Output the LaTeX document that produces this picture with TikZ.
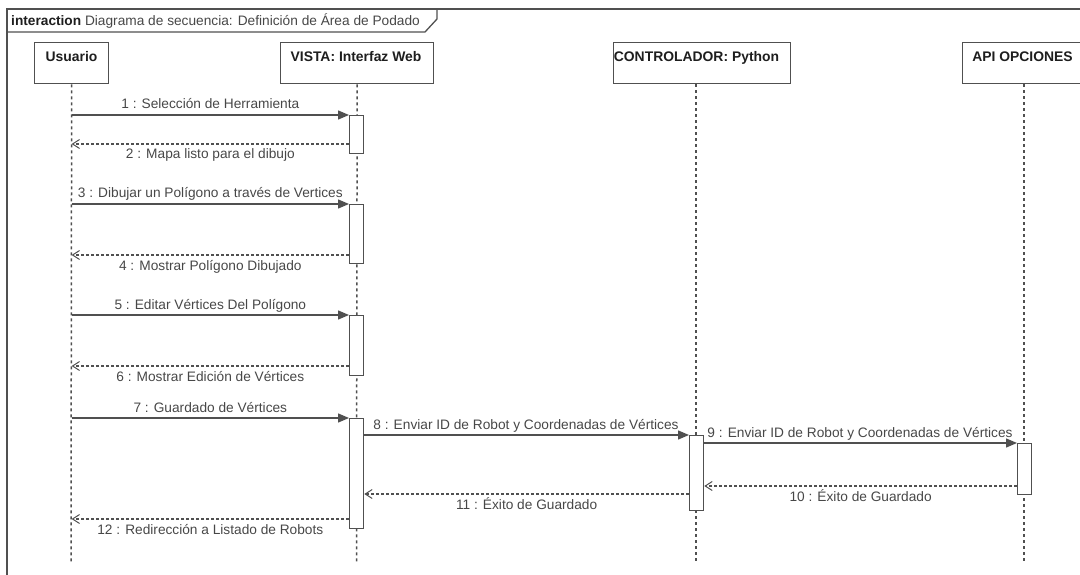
\documentclass[tikz,border=0pt]{standalone}
\usepackage{fontspec}
\setmainfont{Liberation Sans}
\usetikzlibrary{arrows.meta}
\definecolor{linegray}{HTML}{505050}
\definecolor{labelgray}{HTML}{474747}
\definecolor{headink}{HTML}{1E1E1E}

\begin{document}
\begin{tikzpicture}[x=1pt,y=-1pt,
  every node/.style={font=\fontsize{13.7}{16}\selectfont},
  frameline/.style={draw=linegray,line width=1.3pt},
  headbox/.style={draw=linegray,line width=1.3pt,fill=white,minimum height=41pt,
    inner sep=0pt,anchor=north west},
  headtext/.style={text=headink,font=\fontsize{13.9}{16}\selectfont\bfseries,anchor=base,inner sep=0pt},
  lifeline/.style={draw=linegray,line width=1.5pt,dash pattern=on 3pt off 3pt},
  actbox/.style={draw=linegray,line width=1.3pt,fill=white,minimum width=14pt,
    inner sep=0pt,anchor=north west},
  call/.style={draw=linegray,line width=1.3pt,-{Triangle[length=11pt,width=9pt]}},
  reply/.style={draw=linegray,line width=1.2pt,dash pattern=on 3pt off 2pt,
    -{Straight Barb[length=7pt,width=9pt,line width=1pt]}},
  above label/.style={text=labelgray,anchor=base,inner sep=0pt,yshift=6pt},
  below label/.style={text=labelgray,anchor=base,inner sep=0pt,yshift=-15pt}
]
\useasboundingbox (0,0) rectangle (1080,575);
\clip (0,0) rectangle (1080,575);

% interaction frame and its name tab
\draw[frameline] (7,9) rectangle (1100,600);
\draw[frameline] (7,9) -- (437,9) -- (437,19) -- (425,32) -- (7,32);
\node[anchor=base west,inner sep=0pt,text=labelgray] (ftitle) at (11,26)
  {\textcolor{headink}{\bfseries interaction} Diagrama de secuencia: Definición de Área de Podado};

% lifeline heads
\node[headbox,minimum width=74pt]  (usr) at (34,42) {};
\node[headbox,minimum width=153pt] (vis) at (280,42) {};
\node[headbox,minimum width=177pt] (ctl) at (613,42) {};
\node[headbox,minimum width=124pt] (api) at (962,42) {};
\node[headtext] (usrT) at (71.5,62) {Usuario};
\node[headtext] (visT) at (356,62) {VISTA: Interfaz Web};
\node[headtext] (ctlT) at (696.5,62) {CONTROLADOR: Python};
\node[headtext] (apiT) at (1022.5,62) {API OPCIONES};

% lifelines
\coordinate (usrEnd) at (71,562);
\coordinate (visEnd) at (356.5,562);
\coordinate (ctlEnd) at (696,562);
\coordinate (apiEnd) at (1024,562);
\draw[lifeline] (usr.south) -- (usrEnd);
\draw[lifeline] (vis.south) -- (visEnd);
\draw[lifeline] (ctl.south -| ctlEnd) -- (ctlEnd);
\draw[lifeline] (api.south -| apiEnd) -- (apiEnd);

% execution specifications
\node[actbox,minimum height=38pt]  (a1) at (349,115) {};
\node[actbox,minimum height=59pt]  (a2) at (349,204) {};
\node[actbox,minimum height=60pt]  (a3) at (349,315) {};
\node[actbox,minimum height=110pt] (a4) at (349,418) {};
\node[actbox,minimum height=75pt]  (c1) at (689,435) {};
\node[actbox,minimum height=51pt]  (p1) at (1017,443) {};

% anchor points of replies and forwarded calls
\coordinate (r2)  at (349,144);
\coordinate (r4)  at (349,255);
\coordinate (r6)  at (349,366);
\coordinate (s8)  at (363,435);
\coordinate (s9)  at (703,443);
\coordinate (r10) at (1017,486);
\coordinate (r11) at (689,494);
\coordinate (r12) at (349,519);

% messages
\draw[call] (usr.south |- a1.north) -- node[above label] {1 : Selección de Herramienta} (a1.north west);
\draw[reply] (r2) -- node[below label] {2 : Mapa listo para el dibujo} (usr.south |- r2);
\draw[call] (usr.south |- a2.north) -- node[above label] {3 : Dibujar un Polígono a través de Vertices} (a2.north west);
\draw[reply] (r4) -- node[below label] {4 : Mostrar Polígono Dibujado} (usr.south |- r4);
\draw[call] (usr.south |- a3.north) -- node[above label] {5 : Editar Vértices Del Polígono} (a3.north west);
\draw[reply] (r6) -- node[below label] {6 : Mostrar Edición de Vértices} (usr.south |- r6);
\draw[call] (usr.south |- a4.north) -- node[above label] {7 : Guardado de Vértices} (a4.north west);
\draw[call] (s8) -- node[above label] {8 : Enviar ID de Robot y Coordenadas de Vértices} (c1.north west);
\draw[call] (s9) -- node[above label] {9 : Enviar ID de Robot y Coordenadas de Vértices} (p1.north west);
\draw[reply] (r10) -- node[below label] {10 : Éxito de Guardado} (c1.east |- r10);
\draw[reply] (r11) -- node[below label] {11 : Éxito de Guardado} (a4.east |- r11);
\draw[reply] (r12) -- node[below label] {12 : Redirección a Listado de Robots} (usr.south |- r12);
\end{tikzpicture}
\end{document}
